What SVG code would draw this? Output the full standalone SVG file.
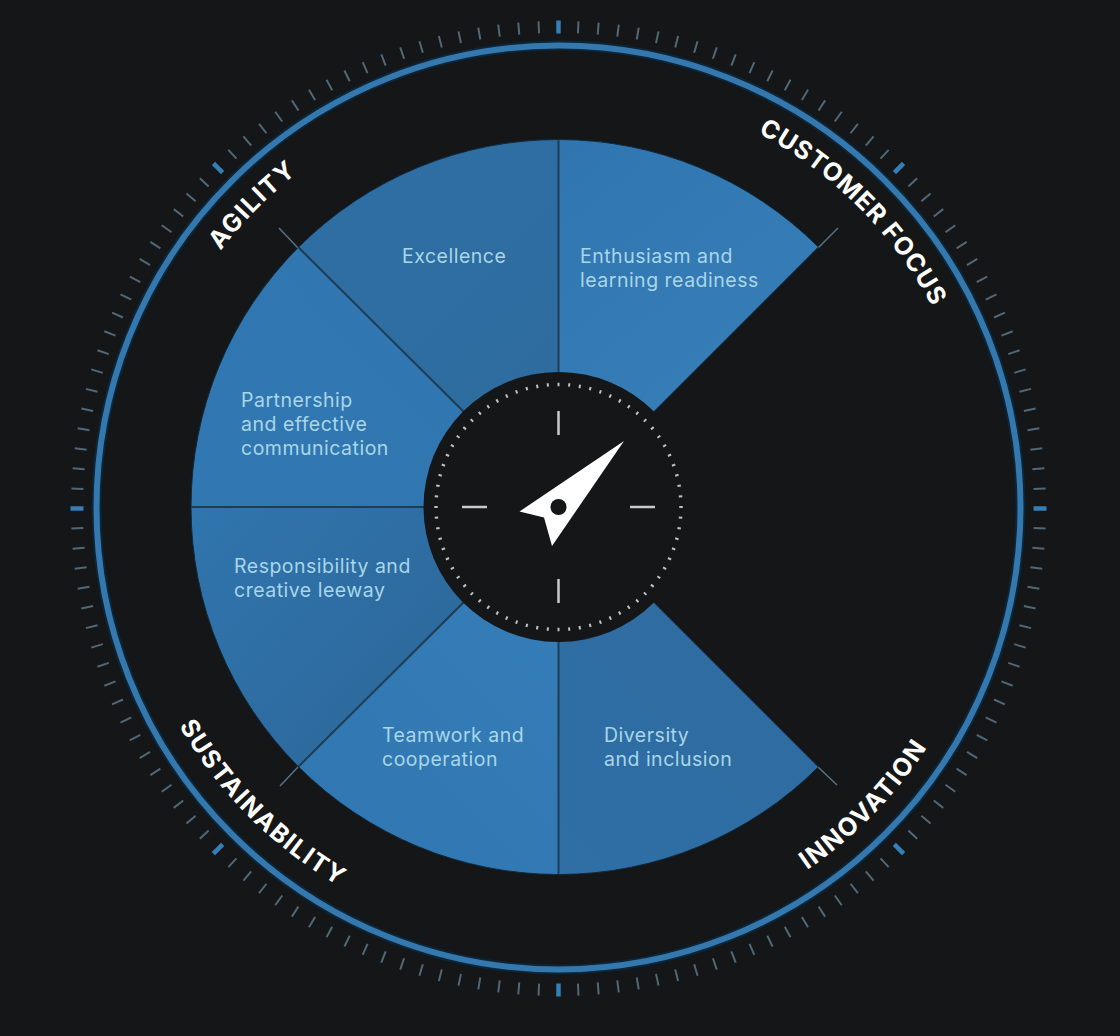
<svg xmlns="http://www.w3.org/2000/svg" width="1120" height="1036" viewBox="0 0 1120 1036">
<style>
.w{stroke:#10293d;stroke-width:1}
.t{font-family:"Inter","Liberation Sans",sans-serif;font-size:19.5px;fill:#a9d6e8;letter-spacing:.5px}
.a{font-family:"Inter","Liberation Sans",sans-serif;font-size:25px;font-weight:700;fill:#fff;letter-spacing:1.5px;text-anchor:middle}
.sep{stroke:#1f3d54;stroke-width:2;fill:none}
.stub{stroke:#566f80;stroke-width:1.6}
.hm{stroke:#c9cbca;stroke-width:2.5}
</style>
<defs>
<linearGradient id="g1" gradientUnits="userSpaceOnUse" x1="560" y1="140" x2="760" y2="400"><stop offset="0" stop-color="#3075ae"/><stop offset="1" stop-color="#377fba"/></linearGradient>
<linearGradient id="g2" gradientUnits="userSpaceOnUse" x1="300" y1="140" x2="558" y2="400"><stop offset="0" stop-color="#2e6fa4"/><stop offset="1" stop-color="#2e6c9f"/></linearGradient>
<linearGradient id="g3" gradientUnits="userSpaceOnUse" x1="190" y1="507" x2="460" y2="250"><stop offset="0" stop-color="#3178b3"/><stop offset="1" stop-color="#3076af"/></linearGradient>
<linearGradient id="g4" gradientUnits="userSpaceOnUse" x1="190" y1="507" x2="460" y2="760"><stop offset="0" stop-color="#3075ae"/><stop offset="1" stop-color="#2c6698"/></linearGradient>
<linearGradient id="g5" gradientUnits="userSpaceOnUse" x1="300" y1="870" x2="558" y2="610"><stop offset="0" stop-color="#3077b1"/><stop offset="1" stop-color="#357db8"/></linearGradient>
<linearGradient id="g6" gradientUnits="userSpaceOnUse" x1="558" y1="870" x2="820" y2="610"><stop offset="0" stop-color="#2f6fa6"/><stop offset="1" stop-color="#2e6b9f"/></linearGradient>
<path id="pCF" d="M558.5 83A424 424 0 0 1 982.5 507"/>
<path id="pAG" d="M134.5 507A424 424 0 0 1 558.5 83"/>
<path id="pIN" d="M558.5 947A440 440 0 0 0 998.500 507"/>
<path id="pSU" d="M120.5 507A438 438 0 0 0 558.5 945"/>
</defs>
<rect width="1120" height="1036" fill="#151617"/>
<g id="dial">
<circle cx="558.5" cy="508.5" r="481.5" fill="none" stroke="#506877" stroke-width="12" pathLength="152" stroke-dasharray="0.1 0.9" stroke-dashoffset="0.05"/>
<circle cx="558.5" cy="508.5" r="482" fill="none" stroke="#151617" stroke-width="15" pathLength="8" stroke-dasharray="0.06 0.94" stroke-dashoffset="0.03"/>
<circle cx="558.5" cy="508.500" r="481.5" fill="none" stroke="#357fb9" stroke-width="13" pathLength="8" stroke-dasharray="0.012 0.988" stroke-dashoffset="0.006"/>
<circle cx="558.5" cy="507.500" r="462" fill="none" stroke="#0c2538" stroke-width="10"/>
<circle cx="558.5" cy="507.500" r="462" fill="none" stroke="#3478ad" stroke-width="6"/>
</g>
<g id="connectors">
<line class="stub" x1="818" y1="248" x2="838" y2="228"/>
<line class="stub" x1="298" y1="248" x2="279" y2="228"/>
<line class="stub" x1="298" y1="767" x2="280" y2="786"/>
<line class="stub" x1="818" y1="767" x2="837" y2="785"/>
</g>
<g id="wedge-enthusiasm"><path class="w" fill="url(#g1)" d="M558.5 139.500A367.500 367.500 0 0 1 818.400 247.100L558.500 507Z"/><text class="t" x="580" y="263">Enthusiasm and</text><text class="t" x="580" y="287">learning readiness</text></g>
<g id="wedge-excellence"><path class="w" fill="url(#g2)" d="M558.500 139.500A367.500 367.500 0 0 0 298.600 247.100L558.500 507Z"/><text class="t" x="402" y="263">Excellence</text></g>
<g id="wedge-partnership"><path class="w" fill="url(#g3)" d="M298.600 247.100A367.500 367.500 0 0 0 191 507L558.500 507Z"/><text class="t" x="241" y="407">Partnership</text><text class="t" x="241" y="431">and effective</text><text class="t" x="241" y="455">communication</text></g>
<g id="wedge-responsibility"><path class="w" fill="url(#g4)" d="M191 507A367.500 367.500 0 0 0 298.600 766.900L558.500 507Z"/><text class="t" x="234" y="573">Responsibility and</text><text class="t" x="234" y="597">creative leeway</text></g>
<g id="wedge-teamwork"><path class="w" fill="url(#g5)" d="M298.600 766.900A367.500 367.500 0 0 0 558.500 874.500L558.500 507Z"/><text class="t" x="382" y="742">Teamwork and</text><text class="t" x="382" y="766">cooperation</text></g>
<g id="wedge-diversity"><path class="w" fill="url(#g6)" d="M558.500 874.500A367.500 367.500 0 0 0 818.400 766.900L558.500 507Z"/><text class="t" x="604" y="742">Diversity</text><text class="t" x="604" y="766">and inclusion</text></g>
<g id="separators">
<line class="sep" x1="558.500" y1="140" x2="558.500" y2="380"/><line class="sep" x1="558.500" y1="874" x2="558.500" y2="634"/>
<line class="sep" x1="191" y1="507" x2="430" y2="507"/>
<line class="sep" x1="299" y1="248" x2="466" y2="414"/><line class="sep" x1="299" y1="766" x2="466" y2="600"/>
</g>
<g id="hub">
<circle cx="558.500" cy="507" r="135" fill="#151617"/>
<circle cx="558.500" cy="507" r="122.500" fill="none" stroke="#bfc1c0" stroke-width="3.500" pathLength="72" stroke-dasharray="0.19 0.81" stroke-dashoffset="0.095"/>
<line class="hm" x1="558.500" y1="411" x2="558.500" y2="435"/><line class="hm" x1="558.500" y1="579" x2="558.500" y2="603"/>
<line class="hm" x1="462" y1="507" x2="487" y2="507"/><line class="hm" x1="630" y1="507" x2="655" y2="507"/>
<path d="M624 441L519.500 511.500L544 517.500L552 546Z" fill="#fff"/>
<circle cx="558.500" cy="507" r="8" fill="#151617"/>
</g>
<g id="label-customer-focus"><text class="a" style="letter-spacing:1px"><textPath href="#pCF" startOffset="50%">CUSTOMER FOCUS</textPath></text></g>
<g id="label-agility"><text class="a"><textPath href="#pAG" startOffset="49.600%">AGILITY</textPath></text></g>
<g id="label-innovation"><text class="a"><textPath href="#pIN" startOffset="50.800%">INNOVATION</textPath></text></g>
<g id="label-sustainability"><text class="a"><textPath href="#pSU" startOffset="50%">SUSTAINABILITY</textPath></text></g>
</svg>
